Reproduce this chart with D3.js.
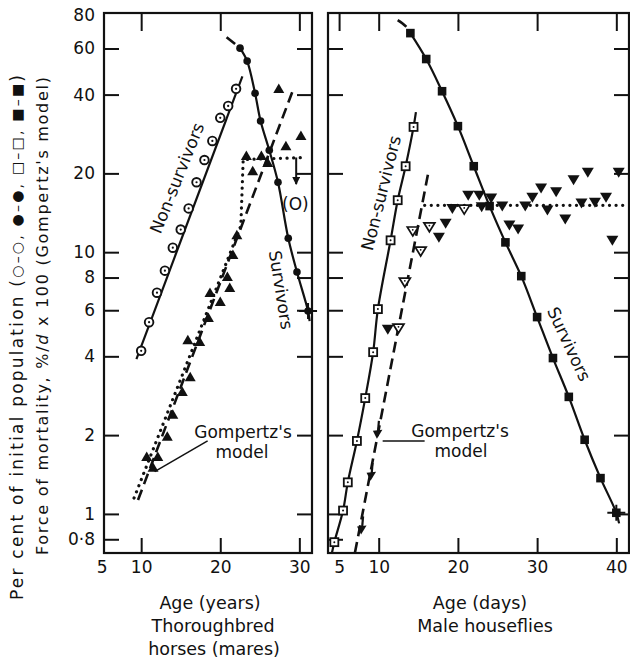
<!DOCTYPE html>
<html><head><meta charset="utf-8">
<script src="https://cdn.jsdelivr.net/npm/d3@7"></script>
<style>
body{margin:0;background:#fff}
svg{display:block}
text{font-family:"DejaVu Sans",sans-serif;fill:#111}
</style>
</head><body>
<svg id="chart" width="630" height="660"></svg>
<script>
// ---------- tick labels ----------
const yTickValues = [0.8, 1, 2, 4, 6, 8, 10, 20, 40, 60, 80];
const yTickLabels = ["0·8", "1", "2", "4", "6", "8", "10", "20", "40", "60", "80"];
const horseXTicks = [5, 10, 20, 30];
const flyXTicks = [5, 10, 20, 30, 40];

// ---------- Thoroughbred horses (mares) ----------
const horseNonSurvAges = [10, 11, 12, 13, 14, 15, 16, 17, 18, 19, 20, 21, 22];
const horseNonSurvValues = [4.2, 5.4, 7.0, 8.5, 10.4, 12.2, 14.7, 18.5, 22.5, 26.6, 32.6, 36.2, 42.1];
const horseNonSurvLineAges = [9.4, 22.8];
const horseNonSurvLineValues = [3.9, 47];

const horseSurvAges = [22.5, 23.4, 24.4, 25.1, 26.2, 27.3, 28.6, 29.7, 31.1];
const horseSurvValues = [60.2, 53.7, 40.5, 31.7, 24.5, 18.5, 11.3, 8.4, 5.96];
const horseSurvDashAges = [20.8, 22.5];
const horseSurvDashValues = [66.3, 60.2];
const horseSurvTailAge = 31.3, horseSurvTailValue = 5.45;

const horseForceAges = [10.7, 12.1, 11.5, 13.3, 14.0, 15.2, 16.2, 15.9, 17.4, 18.5, 18.7, 20.0, 20.9, 21.2, 21.6, 22.1, 23.3, 25.2, 24.1, 26.0, 28.3, 30.2, 27.4];
const horseForceValues = [1.65, 1.65, 1.50, 1.97, 2.39, 2.92, 3.33, 4.61, 4.54, 5.60, 6.98, 6.45, 8.03, 7.30, 9.75, 11.6, 23.3, 23.3, 20.4, 21.9, 25.4, 27.8, 42.0];
const horseGompertzAges = [9.6, 29.1];
const horseGompertzValues = [1.13, 40.9];
const horseDottedAges = [9.1, 22.6, 22.9, 30.8];
const horseDottedValues = [1.15, 12.6, 22.6, 23.0];

// ---------- Male houseflies ----------
const flyNonSurvAges = [4.4, 5.5, 6.1, 7.25, 8.3, 9.3, 9.9, 11.5, 12.4, 13.4, 14.4];
const flyNonSurvValues = [0.78, 1.03, 1.32, 1.90, 2.77, 4.15, 6.06, 11.1, 15.8, 21.3, 30.1];
const flyNonSurvLineStart = [4.1, 0.71], flyNonSurvLineEnd = [14.7, 34.3];

const flySurvAges = [14, 16, 18, 20, 22, 24, 26, 28, 30, 32, 34, 36, 38, 40];
const flySurvValues = [68.7, 54.7, 41.2, 30.3, 21.3, 15.0, 10.9, 8.1, 5.65, 3.94, 2.8, 1.92, 1.37, 1.01];
const flySurvDashAges = [12.4, 13.4, 14];
const flySurvDashValues = [77, 73, 68.7];
const flySurvTailAge = 40.35, flySurvTailValue = 0.92;

const flyForceFilledAges = [18.45, 17.6, 19.3, 21.3, 22.7, 23.0, 24.2, 25.6, 26.5, 27.6, 28.5, 29.4, 30.5, 31.3, 32.4, 33.55, 34.6, 35.6, 36.4, 37.3, 38.7, 39.5, 40.3, 11.15];
const flyForceFilledValues = [12.9, 11.4, 14.7, 16.5, 16.5, 14.9, 16.1, 15.0, 12.7, 12.25, 15.0, 16.2, 17.6, 14.5, 17.0, 13.4, 18.9, 15.4, 20.2, 15.5, 16.2, 11.1, 20.2, 5.08];
const flyForceOpenAges = [14.3, 15.3, 13.3, 12.5, 20.8, 16.4];
const flyForceOpenValues = [12.05, 10.1, 7.69, 5.13, 14.6, 12.5];
const flyForceArrowAges = [9.9, 9.1, 7.9];
const flyForceArrowValues = [2.04, 1.41, 0.88];
const flyGompertzAges = [7.0, 16.3];
const flyGompertzValues = [0.71, 20.4];
const flyDottedAges = [15.8, 41.6];
const flyDottedValues = [15.1, 15.1];

// ---------- layout ----------
const svg = d3.select("#chart");
const yTop = 13, yBottom = 553;
const y = d3.scaleLog().domain([0.709, 82]).range([yBottom, yTop]);
const xL = d3.scaleLinear().domain([5.3, 31.6]).range([104, 312]);
const xR = d3.scaleLinear().domain([3.6, 41.6]).range([328, 629]);

const zip = (a, b) => a.map((d, i) => [d, b[i]]);

function frame(x) {
  const [x0, x1] = x.range();
  svg.append("rect").attr("x", x0).attr("y", yTop).attr("width", x1 - x0).attr("height", yBottom - yTop)
    .attr("fill", "none").attr("stroke", "#111").attr("stroke-width", 2.2);
}
function axes(x, bottomTicks, topTicks, showYLabels, hideBottomTick) {
  const [x0, x1] = x.range();
  const gb = svg.append("g").attr("transform", `translate(0,${yBottom})`)
    .call(d3.axisBottom(x).tickValues(bottomTicks).tickSize(-15).tickPadding(8).tickFormat(d3.format("d")));
  gb.selectAll(".tick").filter(d => hideBottomTick.includes(d)).select("line").remove();
  const gt = svg.append("g").attr("transform", `translate(0,${yTop})`)
    .call(d3.axisTop(x).tickValues(topTicks).tickSize(-18).tickFormat(""));
  const gl = svg.append("g").attr("transform", `translate(${x0},0)`)
    .call(d3.axisLeft(y).tickValues(yTickValues.slice(0, -1)).tickSize(-15).tickPadding(9)
      .tickFormat((d) => showYLabels ? yTickLabels[yTickValues.indexOf(d)] : ""));
  const gr = svg.append("g").attr("transform", `translate(${x1},0)`)
    .call(d3.axisRight(y).tickValues(yTickValues.slice(1, -1)).tickSize(-15).tickFormat(""));
  if (showYLabels) {
    gl.append("g").attr("class", "tick").attr("transform", `translate(0,${y(80)})`)
      .append("text").attr("x", -9).attr("dy", "0.32em").attr("text-anchor", "end").text(yTickLabels[yTickLabels.length - 1]);
  }
  [gb, gt, gl, gr].forEach(g => {
    g.select(".domain").remove();
    g.selectAll("line").attr("stroke", "#111").attr("stroke-width", 2);
    g.selectAll("text").attr("fill", "#111").style("font-size", "17px").style("font-family", '"DejaVu Sans",sans-serif');
  });
}

frame(xL); frame(xR);
axes(xL, horseXTicks, [10, 20, 30], true, [5]);
axes(xR, flyXTicks, [5, 10, 20, 30, 40], false, [5]);

// ---------- line helpers ----------
function drawLine(x, pts, style, curve) {
  const gen = d3.line().x(d => x(d[0])).y(d => y(d[1])).curve(curve || d3.curveLinear);
  const p = svg.append("path").attr("d", gen(pts)).attr("fill", "none").attr("stroke", "#111");
  if (style === "solid") p.attr("stroke-width", 2.2);
  if (style === "dashed") p.attr("stroke-width", 2.6).attr("stroke-dasharray", "11,6");
  if (style === "dotted") p.attr("stroke-width", 3.2).attr("stroke-dasharray", "0.1,6.5").attr("stroke-linecap", "round");
  return p;
}
function markers(x, pts, type) {
  const sel = svg.append("g").selectAll("g").data(pts).join("g")
    .attr("transform", d => `translate(${x(d[0])},${y(d[1])})`);
  if (type === "openCircle") {
    sel.append("circle").attr("r", 4.3).attr("fill", "#fff").attr("stroke", "#111").attr("stroke-width", 1.9);
    sel.append("circle").attr("r", 1.1).attr("fill", "#111");
  } else if (type === "filledCircle") {
    sel.append("circle").attr("r", 3.8).attr("fill", "#111");
  } else if (type === "openSquare") {
    sel.append("rect").attr("x", -4).attr("y", -4).attr("width", 8).attr("height", 8)
      .attr("fill", "#fff").attr("stroke", "#111").attr("stroke-width", 1.8);
    sel.append("circle").attr("r", 1).attr("fill", "#111");
  } else if (type === "filledSquare") {
    sel.append("rect").attr("x", -4.3).attr("y", -4.3).attr("width", 8.6).attr("height", 8.6).attr("fill", "#111");
  } else if (type === "triUp") {
    sel.append("path").attr("d", "M0,-5.5L5.5,4L-5.5,4Z").attr("fill", "#111");
  } else if (type === "triDown") {
    sel.append("path").attr("d", "M0,5.5L6,-4.5L-6,-4.5Z").attr("fill", "#111");
  } else if (type === "triDownOpen") {
    sel.append("path").attr("d", "M0,5L5.5,-4L-5.5,-4Z").attr("fill", "#fff").attr("stroke", "#111").attr("stroke-width", 1.7);
    sel.append("circle").attr("cy", -1.2).attr("r", 0.9).attr("fill", "#111");
  } else if (type === "arrow") {
    sel.append("line").attr("x1", 1).attr("y1", -12).attr("x2", 0).attr("y2", 0).attr("stroke", "#111").attr("stroke-width", 2.2);
    sel.append("path").attr("d", "M-1,6L4.5,-3L-5,-2Z").attr("fill", "#111");
  } else if (type === "cross") {
    sel.append("path").attr("d", "M-9,0H9M0,-8V8").attr("stroke", "#111").attr("stroke-width", 2);
  }
}

// ---------- horses ----------
drawLine(xL, [[horseNonSurvLineAges[0], horseNonSurvLineValues[0]], [horseNonSurvLineAges[1], horseNonSurvLineValues[1]]], "solid");
markers(xL, zip(horseNonSurvAges, horseNonSurvValues), "openCircle");

drawLine(xL, zip(horseSurvDashAges, horseSurvDashValues), "dashed");
drawLine(xL, zip(horseSurvAges, horseSurvValues).concat([[horseSurvTailAge, horseSurvTailValue]]), "solid", d3.curveCatmullRom);
markers(xL, zip(horseSurvAges, horseSurvValues), "filledCircle");
markers(xL, [[horseSurvAges[horseSurvAges.length - 1], horseSurvValues[horseSurvValues.length - 1]]], "cross");

drawLine(xL, zip(horseGompertzAges, horseGompertzValues), "dashed");
drawLine(xL, zip(horseDottedAges, horseDottedValues), "dotted");
markers(xL, zip(horseForceAges, horseForceValues), "triUp");

// arrow and (O)
svg.append("defs").append("marker").attr("id", "ah").attr("viewBox", "0 0 10 10").attr("refX", 9).attr("refY", 5)
  .attr("markerWidth", 4).attr("markerHeight", 4).attr("orient", "auto")
  .append("path").attr("d", "M0,0L10,5L0,10Z").attr("fill", "#111");
svg.append("line").attr("x1", xL(29.6)).attr("y1", y(23)).attr("x2", xL(29.6)).attr("y2", y(18.2))
  .attr("stroke", "#111").attr("stroke-width", 2).attr("marker-end", "url(#ah)");
svg.append("text").attr("x", xL(29.5)).attr("y", y(15.3)).attr("text-anchor", "middle").attr("dominant-baseline", "central")
  .style("font-size", "17px").text("(O)");

// Gompertz label (horses)
svg.append("line").attr("x1", xL(18.4)).attr("y1", y(1.90)).attr("x2", xL(11.7)).attr("y2", y(1.45))
  .attr("stroke", "#111").attr("stroke-width", 1.5);
svg.append("text").attr("x", 243).attr("y", y(2.06)).attr("text-anchor", "middle").attr("dominant-baseline", "central")
  .style("font-size", "17px").text("Gompertz's");
svg.append("text").attr("x", 242).attr("y", y(1.73)).attr("text-anchor", "middle").attr("dominant-baseline", "central")
  .style("font-size", "17px").text("model");

// ---------- houseflies ----------
drawLine(xR, [flyNonSurvLineStart].concat(zip(flyNonSurvAges, flyNonSurvValues), [flyNonSurvLineEnd]), "solid", d3.curveCatmullRom);
markers(xR, zip(flyNonSurvAges, flyNonSurvValues), "openSquare");

drawLine(xR, zip(flySurvDashAges, flySurvDashValues), "dashed", d3.curveCatmullRom);
drawLine(xR, zip(flySurvAges, flySurvValues).concat([[flySurvTailAge, flySurvTailValue]]), "solid", d3.curveCatmullRom);
markers(xR, zip(flySurvAges, flySurvValues), "filledSquare");
markers(xR, [[flySurvAges[flySurvAges.length - 1], flySurvValues[flySurvValues.length - 1]]], "cross");

drawLine(xR, zip(flyGompertzAges, flyGompertzValues), "dashed");
drawLine(xR, zip(flyDottedAges, flyDottedValues), "dotted");
markers(xR, zip(flyForceFilledAges, flyForceFilledValues), "triDown");
markers(xR, zip(flyForceOpenAges, flyForceOpenValues), "triDownOpen");
markers(xR, zip(flyForceArrowAges, flyForceArrowValues), "arrow");

svg.append("line").attr("x1", xR(10.5)).attr("y1", y(1.90)).attr("x2", xR(15.8)).attr("y2", y(1.90))
  .attr("stroke", "#111").attr("stroke-width", 1.5);
svg.append("text").attr("x", 460).attr("y", y(2.08)).attr("text-anchor", "middle").attr("dominant-baseline", "central")
  .style("font-size", "17px").text("Gompertz's");
svg.append("text").attr("x", 461).attr("y", y(1.74)).attr("text-anchor", "middle").attr("dominant-baseline", "central")
  .style("font-size", "17px").text("model");

// ---------- rotated curve labels ----------
function rotLabel(cx, cy, angle, txt, size) {
  svg.append("text").attr("transform", `translate(${cx},${cy}) rotate(${angle})`)
    .attr("text-anchor", "middle").attr("dominant-baseline", "central")
    .style("font-size", size + "px").text(txt);
}
rotLabel(177, 178, -68, "Non-survivors", 17);
rotLabel(281, 290, 81, "Survivors", 17);
rotLabel(381, 193, -76, "Non-survivors", 17);
rotLabel(569, 344, 65, "Survivors", 17);

// ---------- axis titles ----------
function title(cx, cy, txt) {
  svg.append("text").attr("x", cx).attr("y", cy).attr("text-anchor", "middle").attr("dominant-baseline", "central")
    .style("font-size", "17.5px").text(txt);
}
title(210, 603, "Age (years)");
title(213, 626, "Thoroughbred");
title(214, 649, "horses (mares)");
title(480, 603, "Age (days)");
title(485, 626, "Male houseflies");

function yTitle(cx, yStart, target, size, build) {
  const t = svg.append("text").attr("transform", `translate(${cx},${yStart}) rotate(-90)`)
    .attr("text-anchor", "start").attr("dominant-baseline", "central").style("font-size", size + "px")
    .attr("textLength", target).attr("lengthAdjust", "spacing");
  build(t);
}
yTitle(17, 600, 525, 17, t => {
  t.append("tspan").text("Per cent of initial population (");
  t.append("tspan").style("font-size", "14px").text("○–○, ●–●, □–□, ■–■");
  t.append("tspan").text(")");
});
yTitle(42, 555, 478, 16, t => {
  t.append("tspan").text("Force of mortality, %/");
  t.append("tspan").style("font-style", "italic").text("d");
  t.append("tspan").text(" x 100 (Gompertz's model)");
});
</script>
</body></html>
